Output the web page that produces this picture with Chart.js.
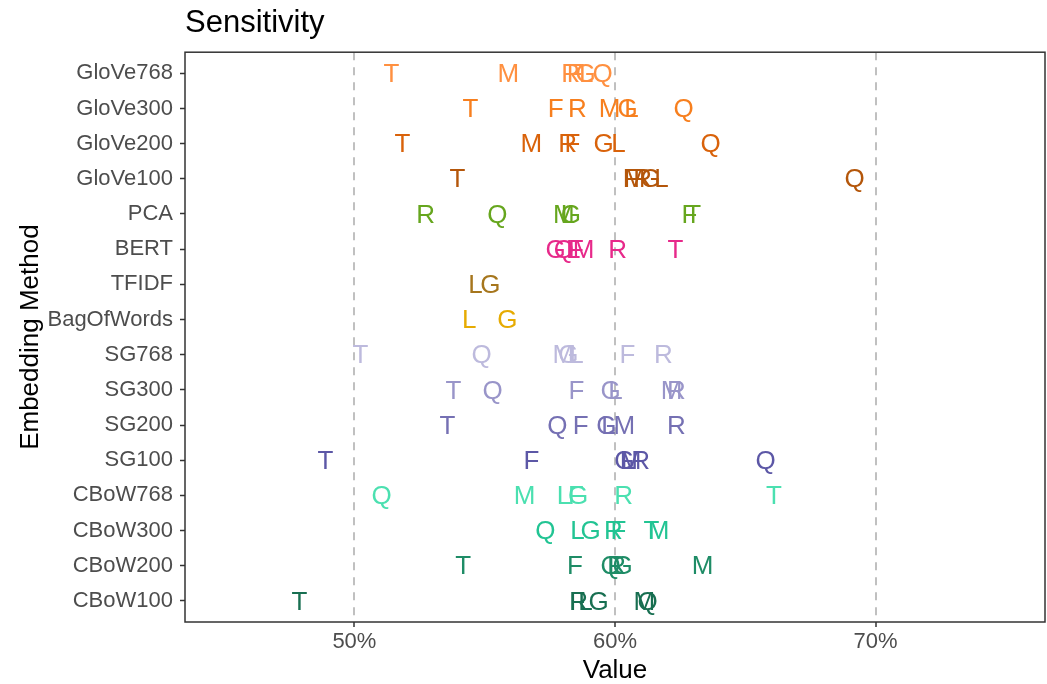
<!DOCTYPE html>
<html>
<head>
<meta charset="utf-8">
<script src="https://cdn.jsdelivr.net/npm/chart.js@4.4.1/dist/chart.umd.min.js"></script>
<style>
  html, body { margin: 0; padding: 0; background: #ffffff; }
  #wrap { width: 1047px; height: 684px; }
</style>
</head>
<body>
<div id="wrap"><canvas id="sensChart"></canvas></div>
<script>
// Embedding methods, top row first.
const methods = ['GloVe768', 'GloVe300', 'GloVe200', 'GloVe100', 'PCA', 'BERT', 'TFIDF', 'BagOfWords',
                 'SG768', 'SG300', 'SG200', 'SG100', 'CBoW768', 'CBoW300', 'CBoW200', 'CBoW100'];

// One colour per embedding method (same order as methods).
const methodColors = ['#FF9040', '#F77F1E', '#D9620A', '#B4560A', '#66A61E', '#E7298A', '#A6761D', '#E6AB02',
                      '#BDBADD', '#9995C9', '#7570B3', '#5C57A6', '#4BE0B0', '#22C493', '#1E8C66', '#186F51'];

// Model letters drawn as the plot symbols.
const models = ['T', 'M', 'R', 'F', 'G', 'Q', 'L'];

// Sensitivity (%) per model, one value per embedding method, null = not run.
const tValues = [51.42, 54.45, 51.84, 53.95, 63.0, 62.32, null, null, 50.23, 53.8, 53.57, 48.89, 66.1, 61.4, 54.17, 47.89];
const mValues = [55.91, 59.79, 56.79, 60.75, 58.04, 58.79, null, null, 58.02, 62.17, 60.36, 60.6, 56.53, 61.67, 63.36, 61.13];
const fValues = [58.45, 57.72, 58.37, 60.6, 62.86, 58.5, null, null, 60.48, 58.52, 58.68, 56.79, 58.5, 60.13, 58.46, 58.56];
const rValues = [58.3, 58.56, 58.18, 61.06, 52.73, 60.1, null, null, 61.86, 62.36, 62.36, 60.98, 60.33, 59.94, 60.06, 58.6];
const gValues = [58.87, 60.48, 59.56, 61.36, 58.31, 57.72, 55.22, 55.87, 58.21, 59.83, 59.67, 60.36, 58.58, 59.06, 60.29, 59.37];
const qValues = [59.52, 62.63, 63.67, 69.19, 55.49, 58.04, null, null, 54.88, 55.3, 57.79, 65.78, 51.04, 57.33, 59.83, 61.25];
const lValues = [58.9, 60.63, 60.13, 61.78, 58.2, 58.4, 54.65, 54.41, 58.52, 60.02, 59.75, 60.5, 58.04, 58.56, 60.0, 58.87];

const xTicks = [50, 60, 70];

const valuesByModel = { T: tValues, M: mValues, F: fValues, R: rValues, G: gValues, Q: qValues, L: lValues };

const FONT = '"Liberation Sans", Arial, Helvetica, sans-serif';

// Build one scatter dataset per model; y is the method's row index.
const datasets = models.map(letter => ({
    label: letter,
    data: valuesByModel[letter]
        .map((v, i) => (v == null ? null : { x: v, y: i }))
        .filter(p => p !== null),
    pointRadius: 0,
    pointHoverRadius: 0
}));

// Draw each model's letter at its point, coloured by method.
const letterPlugin = {
    id: 'letterPoints',
    afterDatasetsDraw(chart) {
        const ctx = chart.ctx;
        ctx.save();
        ctx.font = '26px ' + FONT;
        ctx.textAlign = 'center';
        ctx.textBaseline = 'middle';
        chart.data.datasets.forEach((ds, di) => {
            const meta = chart.getDatasetMeta(di);
            meta.data.forEach((pt, i) => {
                const raw = ds.data[i];
                ctx.fillStyle = methodColors[raw.y];
                ctx.fillText(ds.label, pt.x, pt.y + 1.5);
            });
        });
        ctx.restore();
    }
};

// Panel frame around the plotting area.
const framePlugin = {
    id: 'panelFrame',
    afterDraw(chart) {
        const { ctx, chartArea } = chart;
        ctx.save();
        ctx.strokeStyle = '#333333';
        ctx.lineWidth = 1.5;
        ctx.strokeRect(chartArea.left, chartArea.top, chartArea.right - chartArea.left, chartArea.bottom - chartArea.top);
        ctx.restore();
    }
};

const ctx = document.getElementById('sensChart');

new Chart(ctx, {
    type: 'scatter',
    data: { datasets: datasets },
    plugins: [letterPlugin, framePlugin],
    options: {
        animation: false,
        responsive: true,
        maintainAspectRatio: false,
        layout: { padding: { left: 0, right: 2, top: 0, bottom: 0 } },
        plugins: {
            legend: { display: false },
            tooltip: { enabled: false },
            title: {
                display: true,
                text: 'Sensitivity',
                align: 'start',
                fullSize: false,
                color: '#000000',
                font: { family: FONT, size: 31, weight: 'normal' },
                padding: { top: 5, bottom: 10 }
            }
        },
        scales: {
            x: {
                type: 'linear',
                min: 43.5,
                max: 76.5,
                afterBuildTicks: scale => { scale.ticks = xTicks.map(v => ({ value: v })); },
                afterFit: scale => { scale.height = 62; },
                ticks: {
                    color: '#4D4D4D',
                    font: { family: FONT, size: 22 },
                    padding: 2,
                    callback: v => v + '%'
                },
                grid: {
                    color: '#C0C0C0',
                    lineWidth: 2,
                    drawTicks: true,
                    tickLength: 5,
                    tickColor: '#333333',
                    tickWidth: 1.5
                },
                border: { display: false, dash: [8, 7] },
                title: {
                    display: true,
                    text: 'Value',
                    color: '#000000',
                    font: { family: FONT, size: 26 },
                    padding: { top: 0, bottom: -2 }
                }
            },
            y: {
                type: 'linear',
                reverse: true,
                min: -0.6,
                max: methods.length - 1 + 0.6,
                afterBuildTicks: scale => { scale.ticks = methods.map((m, i) => ({ value: i })); },
                afterFit: scale => { scale.width = 185; },
                ticks: {
                    color: '#4D4D4D',
                    font: { family: FONT, size: 22 },
                    padding: 7,
                    callback: v => methods[v]
                },
                grid: {
                    drawOnChartArea: false,
                    drawTicks: true,
                    tickLength: 5,
                    tickColor: '#333333',
                    tickWidth: 1.5
                },
                border: { display: false },
                title: {
                    display: true,
                    text: 'Embedding Method',
                    color: '#000000',
                    font: { family: FONT, size: 26 },
                    padding: { top: 15, bottom: 0 }
                }
            }
        }
    }
});
</script>
</body>
</html>
